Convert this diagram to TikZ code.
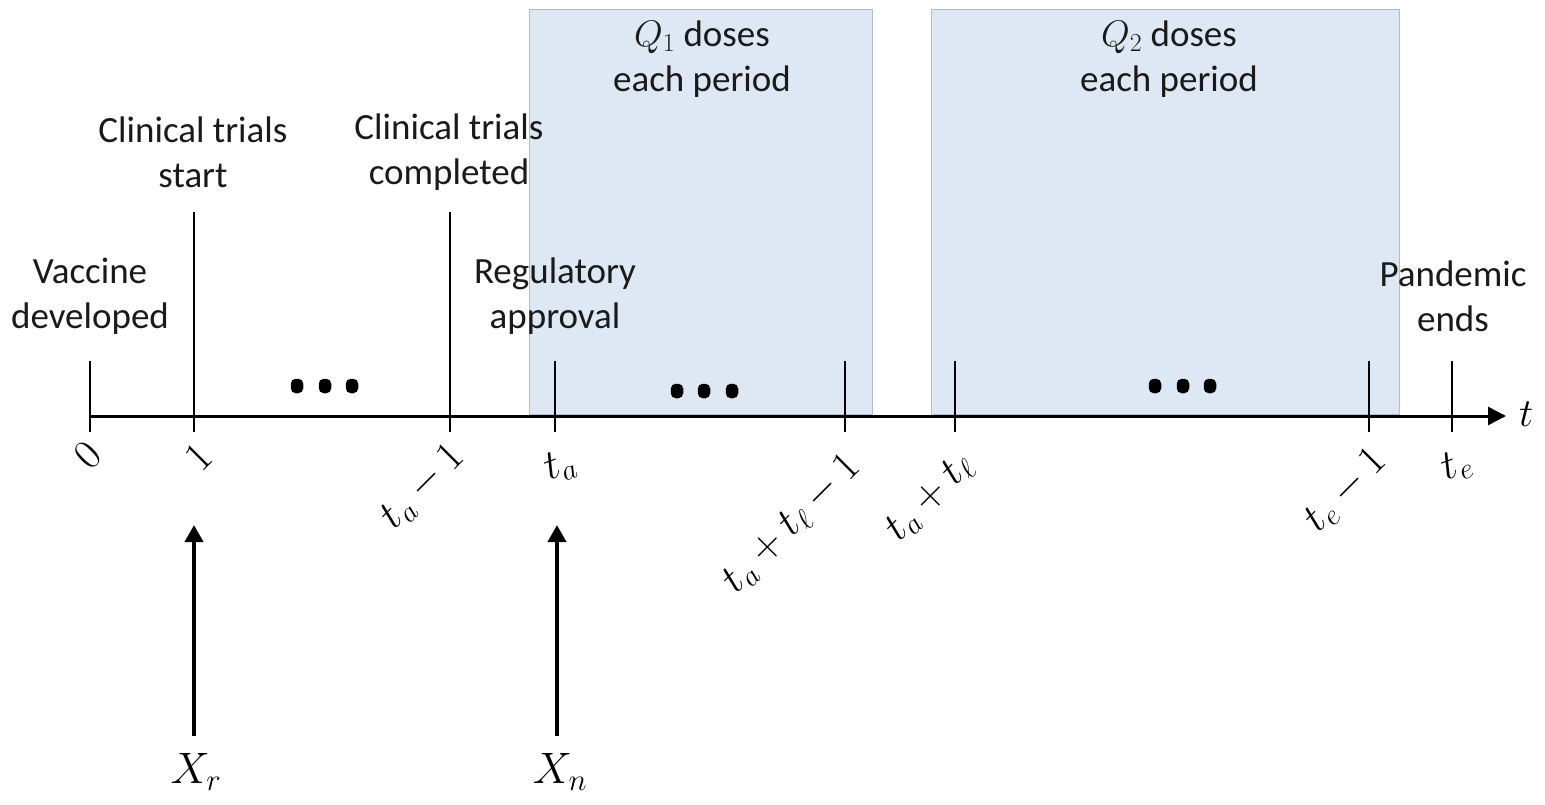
\RequirePackage{fix-cm}
\documentclass[tikz,border=0pt]{standalone}
\usepackage{fontspec}
\setmainfont{Carlito}
\usetikzlibrary{arrows.meta}
\definecolor{boxfill}{HTML}{DEE8F4}
\definecolor{boxline}{HTML}{B4BCC8}
\definecolor{txt}{HTML}{1A1A1A}
\begin{document}
\begin{tikzpicture}[x=1pt,y=-1pt,
  lbl/.style={align=center,text=txt,font=\fontsize{37}{45}\selectfont,inner sep=0pt},
  tl/.style={text=black,font=\fontsize{42}{50}\selectfont,inner sep=0pt},
  period/.style={fill=boxfill,draw=boxline,line width=1pt},
  tick/.style={line width=2.8pt},
  axis/.style={line width=3pt,-{Triangle[width=18pt,length=18pt]}},
  up/.style={line width=4pt,-{Triangle[width=18pt,length=17pt]}},
  dot/.style={rectangle,rounded corners=5pt,fill=black,inner sep=0pt,minimum width=12.5pt,minimum height=14.5pt}]
\useasboundingbox (0,0) rectangle (1545,805);
% shaded periods
\path[period] (529,10) rectangle (872,414);
\path[period] (931,10) rectangle (1399,414);
% axis
\coordinate (a0) at (90,416);
\coordinate (aend) at (1506,416);
\draw[axis] (a0) -- (aend);
\node[tl,font=\fontsize{40}{48}\selectfont,anchor=west] (tlab) at (1519,414) {$t$};
% ticks
\draw[tick] (90,361) -- (90,432);
\draw[tick] (194,212) -- (194,432);
\draw[tick] (450,212) -- (450,432);
\draw[tick] (555,361) -- (555,432);
\draw[tick] (845,361) -- (845,432);
\draw[tick] (955,361) -- (955,432);
\draw[tick] (1369,361) -- (1369,432);
\draw[tick] (1452,361) -- (1452,432);
% dots
\foreach \x in {297,325,352} \node[dot] at (\x,386) {};
\foreach \x in {677,704,732} \node[dot] at (\x,391) {};
\foreach \x in {1155,1183,1210} \node[dot] at (\x,386) {};
% event labels
\node[lbl] (vac) at (90,296) {Vaccine\\developed};
\node[lbl] (cts) at (193,152) {Clinical trials\\start};
\node[lbl] (ctc) at (449,152) {Clinical trials\\completed};
\node[lbl] (reg) at (555,296) {Regulatory\\approval};
\node[lbl] (q1) at (702,59) {$Q_1$ doses\\each period};
\node[lbl] (q2) at (1169,59) {$Q_2$ doses\\each period};
\node[lbl] (pan) at (1453,296) {Pandemic\\ends};
% tick labels
\node[tl,rotate=45] (l0) at (88,455) {$0$};
\node[tl,rotate=45] (l1) at (199,457) {$1$};
\node[tl,rotate=45] (lam1) at (423,487) {$t_a-1$};
\node[tl,rotate=20] (la) at (560,466) {$t_a$};
\node[tl,rotate=45] (lal1) at (792,524) {$t_a+t_\ell-1$};
\node[tl,rotate=45] (lal) at (930,498) {$t_a+t_\ell$};
\node[tl,rotate=45] (lem1) at (1346,491) {$t_e-1$};
\node[tl,rotate=20] (le) at (1457,466) {$t_e$};
% decision arrows
\node[tl,font=\fontsize{44}{52}\selectfont] (xr) at (196,772) {$X_r$};
\node[tl,font=\fontsize{44}{52}\selectfont] (xn) at (560,772) {$X_n$};
\coordinate (xrbase) at (194,736);
\coordinate (xrtip) at (194,525);
\coordinate (xnbase) at (557,736);
\coordinate (xntip) at (557,525);
\draw[up] (xrbase) -- (xrtip);
\draw[up] (xnbase) -- (xntip);
\end{tikzpicture}
\end{document}
